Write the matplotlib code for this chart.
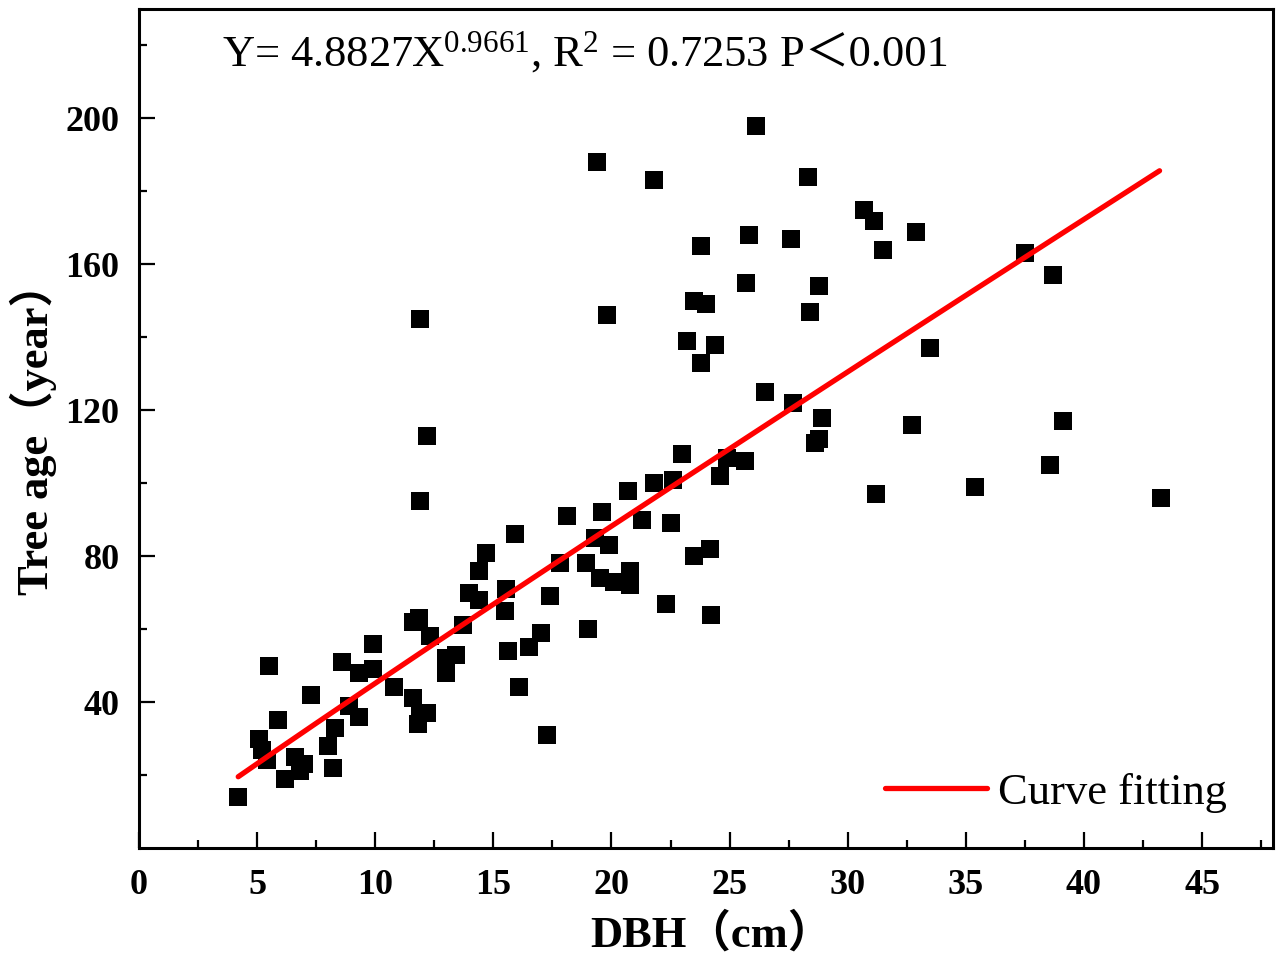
import numpy as np
import matplotlib
matplotlib.use("Agg")
import matplotlib.pyplot as plt

plt.rcParams['font.family'] = ['Liberation Serif', 'Noto Sans CJK SC']
plt.rcParams['mathtext.fontset'] = 'custom'
plt.rcParams['mathtext.rm'] = 'Liberation Serif'
plt.rcParams['mathtext.it'] = 'Liberation Serif:italic'
plt.rcParams['mathtext.bf'] = 'Liberation Serif:bold'

dbh = [4.2, 5.1, 5.2, 5.4, 5.5, 5.9, 6.2, 6.6, 7.0, 6.8,
       7.3, 8.2, 8.0, 8.3, 8.6, 8.9, 9.3, 9.3, 9.9, 9.9,
       10.8, 11.6, 11.85, 12.3, 11.6, 11.9, 11.8, 12.2, 11.9, 12.2,
       11.9, 13.0, 13.0, 13.4, 13.7, 13.95, 14.4, 14.4, 14.7, 15.55,
       15.5, 15.6, 16.1, 15.9, 16.5, 17.0, 17.25, 17.4, 17.8, 18.1,
       18.9, 19.0, 19.4, 19.6, 19.3, 19.5, 19.8, 19.9, 20.1, 20.8,
       20.8, 20.7, 21.3, 21.8, 21.8, 22.3, 22.5, 22.6, 23.0, 23.2,
       23.5, 24.0, 23.5, 23.8, 23.8, 24.15, 24.2, 24.4, 24.6, 24.9,
       25.65, 25.8, 25.7, 26.1, 26.5, 27.6, 27.7, 28.4, 28.3, 28.6,
       28.8, 28.9, 28.8, 30.7, 31.1, 31.5, 31.2, 32.7, 32.9, 33.5,
       35.4, 37.5, 38.55, 38.7, 39.1, 43.25]
age = [14, 30, 27, 24, 50, 35, 19, 25, 23, 21,
       42, 22, 28, 33, 51, 39, 36, 48, 56, 49,
       44, 62, 63, 58, 41, 37, 34, 37, 145, 113,
       95, 52, 48, 53, 61, 70, 68, 76, 81, 71,
       65, 54, 44, 86, 55, 59, 31, 69, 78, 91,
       78, 60, 188, 92, 85, 74, 146, 83, 73, 76,
       72, 98, 90, 183, 100, 67, 89, 101, 108, 139,
       150, 149, 80, 165, 133, 82, 64, 138, 102, 107,
       106, 168, 155, 198, 125, 167, 122, 147, 184, 111,
       112, 118, 154, 175, 172, 164, 97, 116, 169, 137,
       99, 163, 105, 157, 117, 96]

# power fit Y = a * X^b from the figure
fit_a = 4.8827
fit_b = 0.9661
fit_range = (4.2, 43.2)

fig = plt.figure(figsize=(12.8, 9.57), dpi=100)
ax = fig.add_subplot(111)
fig.subplots_adjust(left=0.1086, right=0.9945, top=0.9906, bottom=0.1139)

ax.scatter(dbh, age, marker='s', s=182, c='black', linewidths=0, zorder=2)

xf = np.linspace(fit_range[0], fit_range[1], 200)
ax.plot(xf, fit_a * xf ** fit_b, color='red', lw=3.8, solid_capstyle='round',
        zorder=3, label='Curve fitting')

ax.set_xlim(0, 48)
ax.set_ylim(0, 230)
ax.set_xticks(np.arange(0, 46, 5))
ax.set_xticks(np.arange(2.5, 48, 5), minor=True)
ax.set_yticks([40, 80, 120, 160, 200])
ax.set_yticks([20, 60, 100, 140, 180, 220], minor=True)

for sp in ax.spines.values():
    sp.set_linewidth(2.2)
ax.tick_params(which='both', direction='in', width=1.6, top=False, right=False)
ax.tick_params(which='major', length=11.5, labelsize=26)
ax.tick_params(which='minor', length=6)
ax.tick_params(axis='x', pad=15)
ax.tick_params(axis='y', pad=14)
for lb in ax.get_xticklabels() + ax.get_yticklabels():
    lb.set_fontweight('bold')

ax.set_xlabel('DBH（cm）', fontsize=32, fontweight='bold', va='top')
ax.xaxis.set_label_coords(0.505, -0.077)
ax.set_ylabel('Tree age（year）', fontsize=32, fontweight='bold')
ax.yaxis.set_label_coords(-0.072, 0.5)

t1 = ax.text(0.073, 0.921, r'Y= 4.8827X$^{0.9661}$, R$^{2}$ = 0.7253 P',
             transform=ax.transAxes, fontsize=32, va='bottom', ha='left')
ax.annotate('＜0.001', xy=(1, 0), xycoords=t1, fontsize=32,
            va='bottom', ha='left')

ax.legend(loc='center right', bbox_to_anchor=(0.995, 0.066), frameon=False,
          fontsize=32, handlelength=2.3, handletextpad=0.25)

fig.savefig('out.png', dpi=100)
